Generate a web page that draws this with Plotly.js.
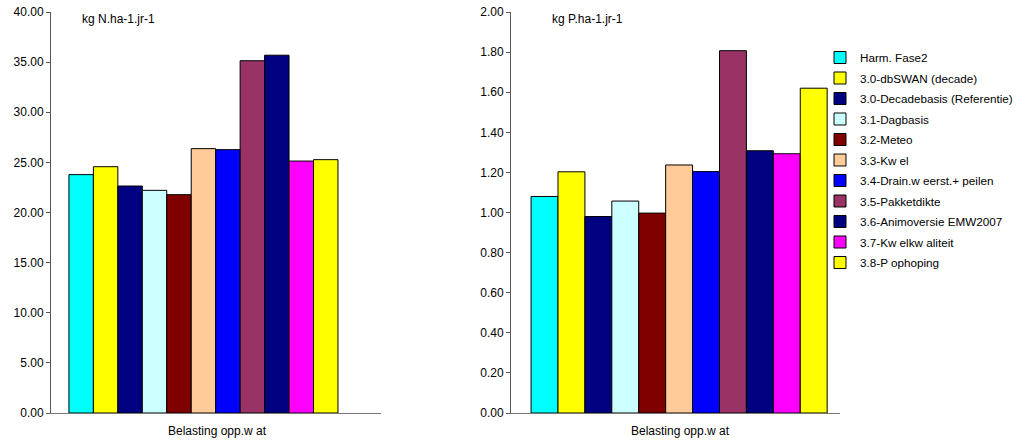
<!DOCTYPE html>
<html>
<head>
<meta charset="utf-8">
<script src="https://cdn.plot.ly/plotly-3.0.1.min.js"></script>
<style>html,body{margin:0;padding:0;background:#fff}#chart{width:1019px;height:441px}</style>
</head>
<body>
<div id="chart"></div>
<script>
const category = ['Belasting opp.w at'];
const seriesNames = [
  'Harm. Fase2',
  '3.0-dbSWAN (decade)',
  '3.0-Decadebasis (Referentie)',
  '3.1-Dagbasis',
  '3.2-Meteo',
  '3.3-Kw el',
  '3.4-Drain.w eerst.+ peilen',
  '3.5-Pakketdikte',
  '3.6-Animoversie EMW2007',
  '3.7-Kw elkw aliteit',
  '3.8-P ophoping'
];
const seriesColors = ['#00FFFF','#FFFF00','#000080','#CCFFFF','#800000','#FFCC99','#0000FF','#993366','#000080','#FF00FF','#FFFF00'];
const nitrogenValues = [23.78, 24.57, 22.64, 22.21, 21.78, 26.37, 26.27, 35.14, 35.69, 25.13, 25.27];
const phosphorusValues = [1.08, 1.203, 0.98, 1.057, 0.997, 1.237, 1.204, 1.807, 1.308, 1.293, 1.62];
const nTicks = [0,5,10,15,20,25,30,35,40];
const pTicks = [0,0.2,0.4,0.6,0.8,1.0,1.2,1.4,1.6,1.8,2.0];

const FONT = 'Liberation Sans, Arial, sans-serif';
const traces = [];
seriesNames.forEach((name, i) => {
  traces.push({
    type: 'bar', x: category, y: [nitrogenValues[i]], name: name,
    xaxis: 'x', yaxis: 'y', legendgroup: 'g' + i, showlegend: false,
    marker: {color: seriesColors[i], line: {color: '#000000', width: 1}},
    hoverinfo: 'y+name'
  });
});
seriesNames.forEach((name, i) => {
  traces.push({
    type: 'bar', x: category, y: [phosphorusValues[i]], name: name,
    xaxis: 'x2', yaxis: 'y2', legendgroup: 'g' + i, showlegend: true,
    marker: {color: seriesColors[i], line: {color: '#000000', width: 1}},
    hoverinfo: 'y+name'
  });
});

const yCommon = {
  showgrid: false, zeroline: false, showline: true, linecolor: '#555555', linewidth: 1,
  ticks: 'outside', ticklen: 4, tickcolor: '#555555', automargin: false,
  tickfont: {family: FONT, size: 12, color: '#000000'}
};
const xCommon = {
  type: 'category', showgrid: false, zeroline: false, showline: true, linecolor: '#777777',
  linewidth: 1, showticklabels: false, ticks: '', automargin: false, fixedrange: true
};

const layout = {
  width: 1019, height: 441,
  margin: {l: 0, r: 0, t: 0, b: 0},
  paper_bgcolor: '#ffffff', plot_bgcolor: '#ffffff',
  barmode: 'group', bargap: 0.1, bargroupgap: 0,
  font: {family: FONT, color: '#000000'},
  xaxis: Object.assign({}, xCommon, {domain: [51/1019, 381/1019], range: [-0.510, 0.594], anchor: 'y'}),
  yaxis: Object.assign({}, yCommon, {domain: [1 - 413/441, 1 - 12/441], range: [0, 40], tickvals: nTicks,
    ticktext: nTicks.map(v => v.toFixed(2)), anchor: 'x'}),
  xaxis2: Object.assign({}, xCommon, {domain: [511/1019, 840/1019], range: [-0.511, 0.489], anchor: 'y2'}),
  yaxis2: Object.assign({}, yCommon, {domain: [1 - 413/441, 1 - 12/441], range: [0, 2], tickvals: pTicks,
    ticktext: pTicks.map(v => v.toFixed(2)), anchor: 'x2'}),
  legend: {
    x: 820/1019, xanchor: 'left', y: 1 - 43/441, yanchor: 'top',
    font: {family: FONT, size: 11.7, color: '#000000'},
    bgcolor: 'rgba(0,0,0,0)', borderwidth: 0, traceorder: 'grouped', tracegroupgap: 1.5
  },
  annotations: [
    {text: 'kg N.ha-1.jr-1', xref: 'paper', yref: 'paper', x: 80/1019, y: 1 - 19/441,
      xanchor: 'left', yanchor: 'middle', showarrow: false, font: {family: FONT, size: 12}},
    {text: 'kg P.ha-1.jr-1', xref: 'paper', yref: 'paper', x: 550/1019, y: 1 - 19/441,
      xanchor: 'left', yanchor: 'middle', showarrow: false, font: {family: FONT, size: 12}},
    {text: 'Belasting opp.w at', xref: 'paper', yref: 'paper', x: 217/1019, y: 1 - 431/441,
      xanchor: 'center', yanchor: 'middle', showarrow: false, font: {family: FONT, size: 12}},
    {text: 'Belasting opp.w at', xref: 'paper', yref: 'paper', x: 680/1019, y: 1 - 431/441,
      xanchor: 'center', yanchor: 'middle', showarrow: false, font: {family: FONT, size: 12}}
  ]
};

Plotly.newPlot('chart', traces, layout, {displayModeBar: false, staticPlot: true});
</script>
</body>
</html>
